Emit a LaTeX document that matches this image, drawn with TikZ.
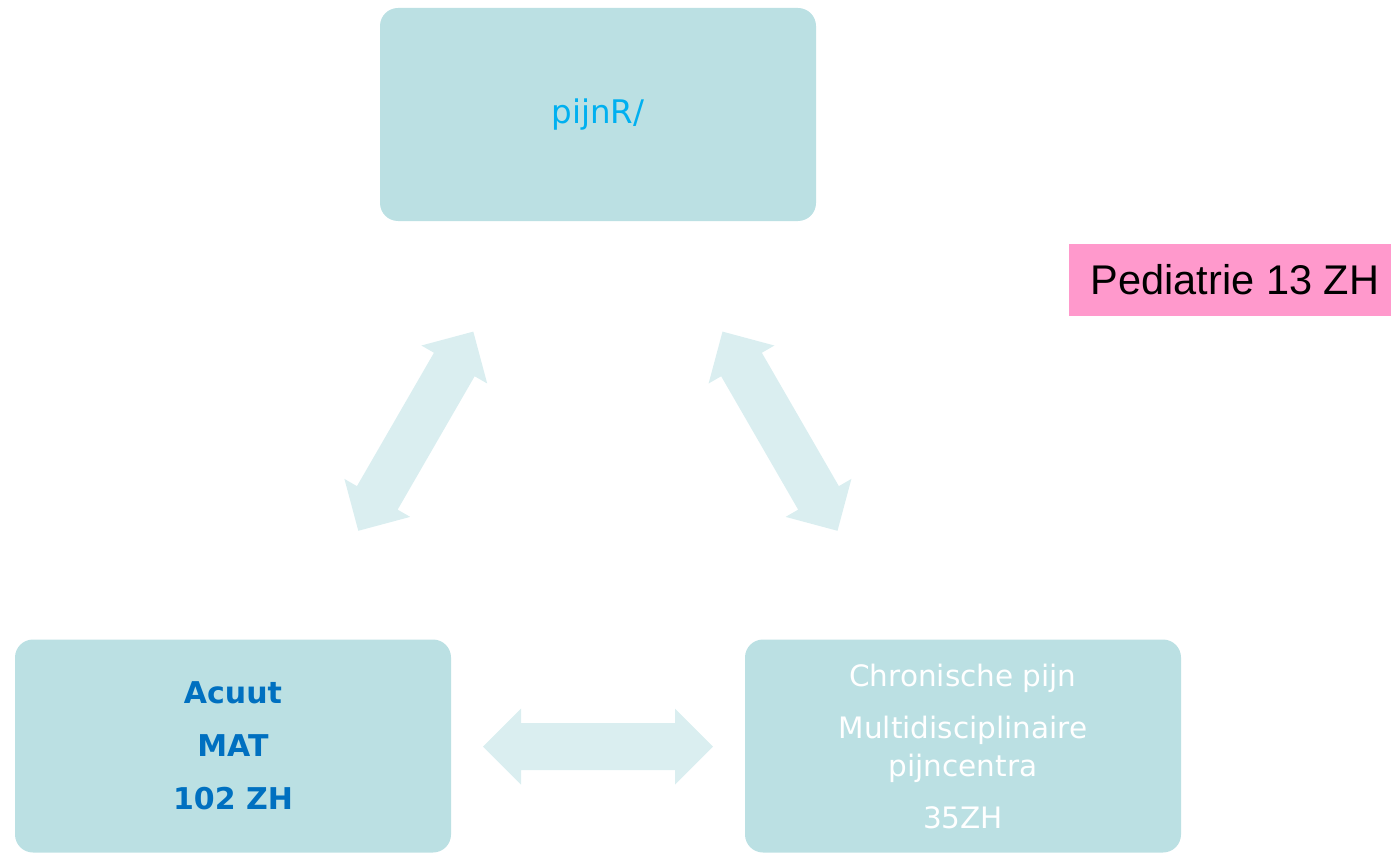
\documentclass[tikz,border=0pt]{standalone}
\usepackage{fontspec}
\setmainfont{DejaVu Sans}
\newfontfamily\arialfont{Liberation Sans}
\definecolor{boxfill}{HTML}{BBE0E3}
\definecolor{arrowfill}{HTML}{DAEEF0}
\definecolor{pinkfill}{HTML}{FF99CC}
\definecolor{cyantext}{HTML}{00B0F0}
\definecolor{bluetext}{HTML}{0070C0}
\begin{document}
\begin{tikzpicture}[x=1pt,y=1pt,
  box/.style={rectangle, rounded corners=18pt, fill=boxfill, minimum width=436pt, minimum height=213pt, align=center, inner sep=0pt},
  pics/dblarrow/.style={code={\fill[arrowfill] (-115,0) -- (-77,38) -- (-77,23.5) -- (77,23.5) -- (77,38) -- (115,0) -- (77,-38) -- (77,-23.5) -- (-77,-23.5) -- (-77,-38) -- cycle;}}]
\useasboundingbox (0,0) rectangle (1391,-853);
% boxes
\node[box, font=\fontsize{32.5}{38}\selectfont, text=cyantext] (pijn) at (598,-114.5) {pijnR/};
\node[box, font=\bfseries\fontsize{30}{53}\selectfont, text=bluetext] (acuut) at (233,-746) {Acuut\\MAT\\102 ZH};
\node[box, font=\fontsize{29.5}{38}\selectfont, text=white] (chron) at (963,-746) {Chronische pijn\\[14pt]Multidisciplinaire\\pijncentra\\[14pt]35ZH};
\node[rectangle, fill=pinkfill, minimum width=322pt, minimum height=72pt, inner sep=0pt, font=\arialfont\fontsize{41.5}{48}\selectfont] (ped) at (1230,-280) {\hspace*{10pt}Pediatrie 13 ZH};
% double arrows
\coordinate (arrL) at (415.8,-431.2);
\coordinate (arrR) at (780,-431.2);
\coordinate (arrB) at (598,-746.7);
\pic[rotate=60] at (arrL) {dblarrow};
\pic[rotate=120] at (arrR) {dblarrow};
\pic at (arrB) {dblarrow};
\end{tikzpicture}
\end{document}
